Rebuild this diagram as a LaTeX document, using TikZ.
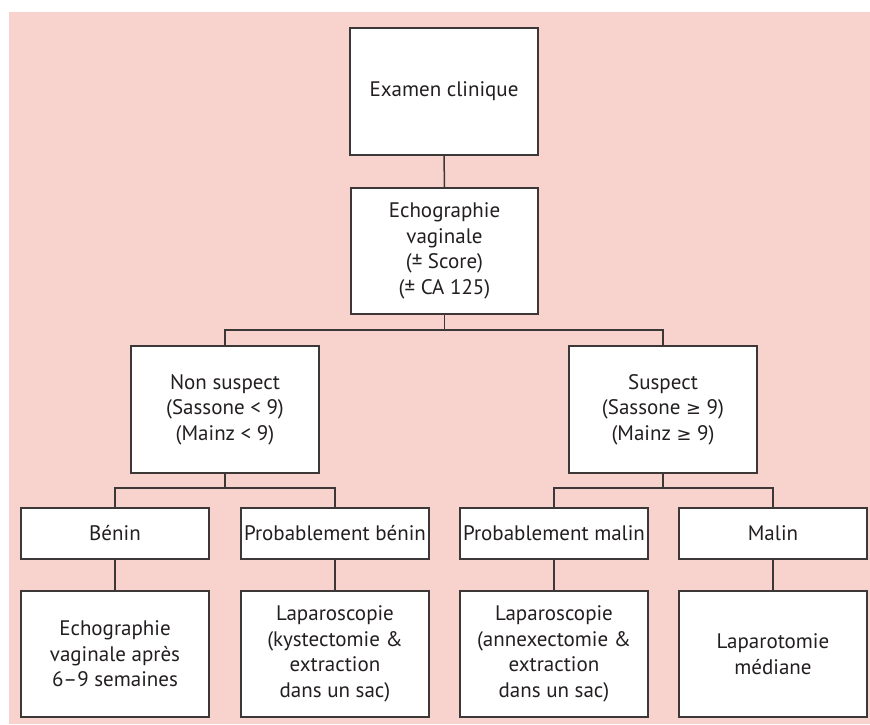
\documentclass[tikz,border=0pt]{standalone}
\usepackage{fontspec}
\setmainfont{PT Sans}
\newfontfamily\symf[Scale=0.85]{DejaVu Sans}
\newcommand{\gtr}{{\symf ≥}}
\definecolor{bgpink}{RGB}{248,211,206}
\definecolor{ink}{RGB}{35,31,32}
\definecolor{edge}{RGB}{60,56,56}
\begin{document}
\begin{tikzpicture}[x=1pt,y=-1pt,
  box/.style={draw=edge,line width=1.5pt,fill=white,text=ink,align=center,
    inner sep=0pt,minimum width=188pt,
    font=\fontsize{21}{25.5}\selectfont},
  tall/.style={box,minimum height=127pt},
  short/.style={box,minimum height=51pt},
  link/.style={draw=edge,line width=1.5pt}]
\useasboundingbox (0,0) rectangle (870,724);
\fill[bgpink] (9,12) rectangle (870,724);
\node[tall] (b1) at (444,91.5) {Examen clinique};
\node[tall,minimum width=187pt,minimum height=126pt] (b2) at (444.5,251) {Echographie\\vaginale\\(± Score)\\(± CA 125)};
\node[tall] (ns) at (225,409.5) {Non suspect\\(Sassone < 9)\\(Mainz < 9)};
\node[tall] (su) at (663,409.5) {Suspect\\(Sassone \gtr{} 9)\\(Mainz \gtr{} 9)};
\node[short] (be) at (115,533.5) {Bénin};
\node[short] (pb) at (335,533.5) {Probablement bénin};
\node[short] (pm) at (554,533.5) {Probablement malin};
\node[short] (ma) at (773,533.5) {Malin};
\node[tall,minimum height=126pt] (e1) at (115,654) {Echographie\\vaginale après\\6–9 semaines};
\node[tall,minimum height=126pt] (e2) at (335,654) {Laparoscopie\\(kystectomie \&\\extraction\\dans un sac)};
\node[tall,minimum height=126pt] (e3) at (554,654) {Laparoscopie\\(annexectomie \&\\extraction\\dans un sac)};
\node[tall,minimum height=126pt] (e4) at (773,654) {Laparotomie\\médiane};
\coordinate (j1) at (444.5,330);
\coordinate (j2) at (225,488);
\coordinate (j3) at (663,488);
\draw[link] (b1.south) -- (b2.north);
\draw[link] (b2.south) -- (j1);
\draw[link] (j1) -| (ns.north);
\draw[link] (j1) -| (su.north);
\draw[link] (ns.south) -- (j2);
\draw[link] (j2) -| (be.north);
\draw[link] (j2) -| (pb.north);
\draw[link] (su.south) -- (j3);
\draw[link] (j3) -| (pm.north);
\draw[link] (j3) -| (ma.north);
\draw[link] (be.south) -- (e1.north);
\draw[link] (pb.south) -- (e2.north);
\draw[link] (pm.south) -- (e3.north);
\draw[link] (ma.south) -- (e4.north);
\end{tikzpicture}
\end{document}
